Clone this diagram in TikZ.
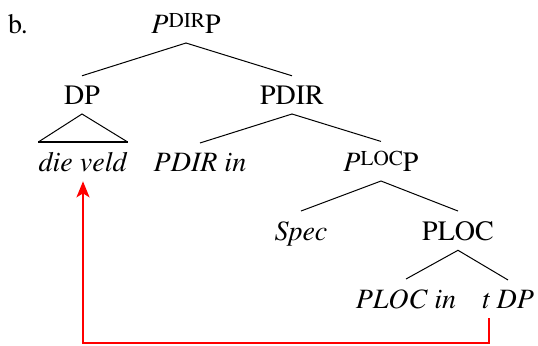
\documentclass[tikz,border=0pt]{standalone}
\usepackage[T1]{fontenc}
\usepackage{mathptmx}
\usetikzlibrary{arrows.meta}
\newcommand{\upsc}[1]{\raisebox{2.6pt}{\fontsize{10.6}{12}\selectfont #1}}

\begin{document}
\begin{tikzpicture}[x=0.5pt,y=-0.5pt,font=\fontsize{14}{17}\selectfont,
  every node/.style={anchor=base,inner ysep=4.8pt},
  move/.style={red,line width=1pt,-{Stealth[length=8pt,width=6.5pt,inset=2pt]}}]
  \useasboundingbox (0,0) rectangle (538,345);
  \node (lbl) at (18,33) {b.};
  \node (pdirp) at (186,33) {\textit{P}\upsc{DIR}P};
  \node (dp) at (82,104) {DP};
  \node (pdir) at (292,104) {PDIR};
  \node[inner xsep=0pt] (veld) at (83,171) {\textit{die veld}};
  \node (pdirin) at (200,171) {\textit{PDIR in}};
  \node (plocp) at (381,171) {\textit{P}\upsc{LOC}P};
  \node (spec) at (301,240) {\textit{Spec}};
  \node (ploc) at (458,240) {PLOC};
  \node (plocin) at (406,308) {\textit{PLOC in}};
  \node (tdp) at (508,308) {\textit{t DP}};
  \draw[line width=0.5pt] (dp.north) -- (pdirp.south) -- (pdir.north)
    (pdirin.north) -- (pdir.south) -- (plocp.north)
    (spec.north) -- (plocp.south) -- (ploc.north)
    (plocin.north) -- (ploc.south) -- (tdp.north);
  \draw[line width=0.5pt] (veld.north west) -- (dp.south) -- (veld.north east);
  \draw[line width=0.9pt] (veld.north west) -- (veld.north east);
  % movement of the DP
  \draw[move] ([xshift=7pt]tdp.south west) -- ++(0,25) -| (veld.south);
\end{tikzpicture}
\end{document}
